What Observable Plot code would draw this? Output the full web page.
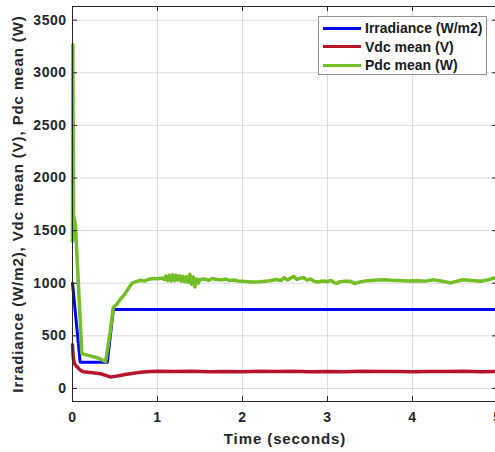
<!DOCTYPE html>
<html>
<head>
<meta charset="utf-8">
<script src="https://cdn.jsdelivr.net/npm/d3@7"></script>
<script src="https://cdn.jsdelivr.net/npm/@observablehq/plot@0.6"></script>
<style>
  body { margin: 0; background: #fff; }
  #wrap { position: relative; width: 495px; height: 452px; overflow: hidden; font-family: "Liberation Sans", Arial, sans-serif; }
  .legend { position: absolute; left: 318px; top: 16px; width: 169px; height: 59px; box-sizing: border-box;
            border: 1px solid #8f8f8f; background: #fff; padding-top: 2px; }
  .legend .row { display: flex; align-items: center; height: 18.5px; }
  .legend .sw { width: 38px; height: 3px; margin-left: 4px; margin-right: 4px; }
  .legend .lab { font-size: 14px; font-weight: bold; color: #1a1a1a; white-space: nowrap; }
</style>
</head>
<body>
<div id="wrap"></div>
<script>
// ---- data ----
const seriesNames = ["Irradiance (W/m2)", "Vdc mean (V)", "Pdc mean (W)"];
const seriesColors = ["#0000ff", "#b8142e", "#74bf26"];
const xTicks = [0, 1, 2, 3, 4, 5];
const yTicks = [0, 500, 1000, 1500, 2000, 2500, 3000, 3500];
const xLabel = "Time (seconds)";
const yLabel = "Irradiance (W/m2), Vdc mean (V), Pdc mean (W)";

const irrT = [0, 0.09, 0.41, 0.48, 5];
const irrV = [1000, 250, 250, 750, 750];

const vdcT = [0, 0.008, 0.02, 0.055, 0.09, 0.13, 0.21, 0.33, 0.4, 0.45, 0.5, 0.56, 0.62, 0.68, 0.8, 0.92, 1.0,
  1.2, 1.4, 1.6, 1.8, 2.0, 2.2, 2.4, 2.6, 2.8, 3.0, 3.2, 3.4, 3.6, 3.8, 4.0, 4.2, 4.4, 4.6, 4.8, 5.0];
const vdcV = [415, 300, 240, 203, 175, 158, 152, 140, 122, 108, 115, 124, 132, 140, 153, 162, 163,
  160, 163, 158, 162, 159, 163, 160, 164, 158, 162, 159, 163, 160, 162, 158, 162, 160, 163, 159, 162];

const pdcT = [0, 0.004, 0.012, 0.035, 0.11, 0.2, 0.3, 0.39, 0.44, 0.48, 0.52, 0.56, 0.6, 0.65, 0.7, 0.75, 0.8, 0.85, 0.9, 0.95,
  1.0, 1.05, 1.08, 1.1, 1.12, 1.14, 1.16, 1.18, 1.2, 1.22, 1.24, 1.26, 1.28, 1.3, 1.32, 1.34, 1.36, 1.38, 1.4, 1.42, 1.44, 1.46, 1.48,
  1.5, 1.55, 1.6, 1.65, 1.7, 1.75, 1.8, 1.85, 1.9, 1.95, 2.0, 2.1, 2.2, 2.3, 2.4, 2.45, 2.49, 2.53, 2.56, 2.6, 2.64, 2.68, 2.72,
  2.76, 2.8, 2.84, 2.88, 2.95, 3.0, 3.04, 3.08, 3.11, 3.15, 3.2, 3.27, 3.32, 3.38, 3.43, 3.5, 3.6, 3.66, 3.75, 3.85, 3.95,
  4.05, 4.15, 4.25, 4.3, 4.38, 4.45, 4.5, 4.6, 4.7, 4.8, 4.88, 4.96, 5.0];
const pdcV = [1400, 3270, 1650, 1550, 330, 312, 290, 255, 520, 770, 800, 845, 880, 940, 1000, 1015, 1028, 1022, 1038, 1045,
  1042, 1050, 1035, 1070, 1025, 1075, 1020, 1080, 1025, 1075, 1030, 1070, 1020, 1065, 1015, 1060, 1010, 1085, 990, 1060, 965, 1040, 1000,
  1035, 1040, 1028, 1045, 1035, 1030, 1040, 1025, 1030, 1022, 1018, 1012, 1015, 1022, 1035, 1025, 1053, 1030, 1045, 1065, 1035, 1050, 1053,
  1030, 1040, 1020, 1012, 1022, 1015, 1027, 1005, 997, 1015, 1020, 1018, 997, 1012, 1020, 1025, 1030, 1033, 1028, 1025, 1022,
  1024, 1020, 1033, 1025, 1015, 1003, 1015, 1033, 1025, 1018, 1030, 1050, 1045];

// ---- build tables ----
const toRows = (T, V) => T.map((t, i) => ({t, v: V[i]}));
const irr = toRows(irrT, irrV);
const vdc = toRows(vdcT, vdcV);
const pdc = toRows(pdcT, pdcV);

const W = 495, H = 452, mL = 72, mR = -2, mT = 6, mB = 51;
const plotW = W - mL - mR, plotH = H - mT - mB;
const ink = "#262626";

const chart = Plot.plot({
  width: W, height: H,
  marginLeft: mL, marginRight: mR, marginTop: mT, marginBottom: mB,
  style: {fontFamily: "'Liberation Sans', Arial, sans-serif", fontWeight: "bold", color: ink, background: "white"},
  x: {domain: [0, 5]},
  y: {domain: [-124, 3630]},
  marks: [
    Plot.gridX(xTicks, {stroke: "#dcdcdc", strokeOpacity: 1}),
    Plot.gridY(yTicks, {stroke: "#dcdcdc", strokeOpacity: 1}),
    Plot.line(irr, {x: "t", y: "v", stroke: seriesColors[0], strokeWidth: 3}),
    Plot.line(vdc, {x: "t", y: "v", stroke: seriesColors[1], strokeWidth: 3.5}),
    Plot.line(pdc, {x: "t", y: "v", stroke: seriesColors[2], strokeWidth: 3.5}),
    Plot.tickY(yTicks, {y: d => d, insetRight: plotW - 5, stroke: ink}),
    Plot.tickY(yTicks, {y: d => d, insetLeft: plotW - 5, stroke: ink}),
    Plot.tickX(xTicks, {x: d => d, insetTop: plotH - 5, stroke: ink}),
    Plot.tickX(xTicks, {x: d => d, insetBottom: plotH - 5, stroke: ink}),
    Plot.frame({stroke: ink}),
    Plot.axisX(xTicks, {tickSize: 0, tickPadding: 11, fontSize: 14, label: xLabel, labelAnchor: "center", labelOffset: 42}),
    Plot.axisY(yTicks, {tickSize: 0, tickPadding: 6, fontSize: 14, tickFormat: d => String(d), label: yLabel, labelAnchor: "center", labelOffset: 60})
  ]
});

const svg = d3.select(chart);
svg.selectAll('g[aria-label="x-axis tick label"], g[aria-label="y-axis tick label"]').attr("letter-spacing", "0.5px");
svg.selectAll('g[aria-label="x-axis label"], g[aria-label="y-axis label"]').attr("font-size", "15px").attr("letter-spacing", "0.9px");
svg.select('g[aria-label="x-axis label"] text').text(xLabel);
svg.select('g[aria-label="y-axis label"] text').text(yLabel);

const wrap = document.getElementById("wrap");
wrap.appendChild(chart);

const legend = document.createElement("div");
legend.className = "legend";
seriesNames.forEach((name, i) => {
  const row = document.createElement("div");
  row.className = "row";
  const sw = document.createElement("div");
  sw.className = "sw";
  sw.style.background = seriesColors[i];
  const lab = document.createElement("span");
  lab.className = "lab";
  lab.textContent = name;
  row.appendChild(sw);
  row.appendChild(lab);
  legend.appendChild(row);
});
wrap.appendChild(legend);
</script>
</body>
</html>
